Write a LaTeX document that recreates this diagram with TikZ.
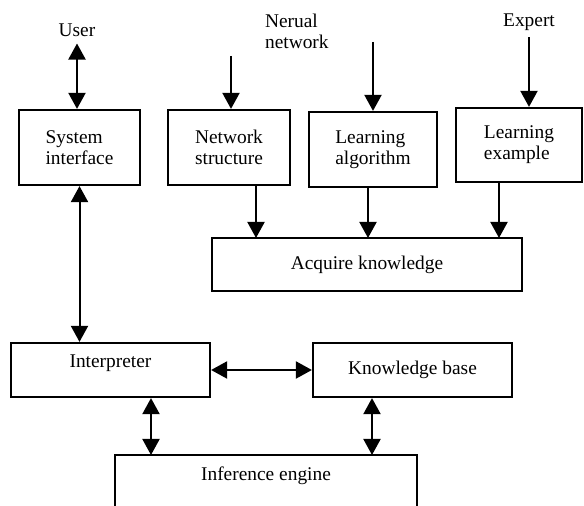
\documentclass[tikz,border=0pt]{standalone}
\usepackage{fontspec}
\setmainfont{Liberation Serif}
\usetikzlibrary{arrows.meta, positioning}

\begin{document}
\begin{tikzpicture}[x=0.5pt, y=-0.5pt]
      \tikzstyle{box}=[rectangle, draw, line width=1.1pt, inner sep=2pt, align=left, font=\fontsize{9.7}{10.5}\selectfont]
      \tikzstyle{lbl}=[align=left, font=\fontsize{9.7}{10.5}\selectfont]
      \tikzstyle{arr}=[line width=1pt, -{Triangle[length=8pt, width=8.5pt]}]
      \tikzstyle{dblarr}=[line width=1pt, {Triangle[length=8pt, width=8.5pt]}-{Triangle[length=8pt, width=8.5pt]}]
      \useasboundingbox (0,0) rectangle (584,506);
      \clip (0,0) rectangle (584,506);
      % top row
      \node[lbl] (user) at (77,30) {User};
      \node[lbl, anchor=west] (nn) at (258,31) {Nerual\\network};
      \node[lbl] (expert) at (529,22) {Expert};
      \node[box, minimum width=60.5pt, minimum height=37.5pt] (sysif) at (79.5,147.5) {System\\interface};
      \node[box, minimum width=61pt, minimum height=37.5pt] (ns) at (229,147.5) {Network\\structure};
      \node[box, minimum width=64pt, minimum height=37.5pt] (la) at (373,149.5) {Learning\\algorithm};
      \node[box, minimum width=63pt, minimum height=37pt] (le) at (519,145) {Learning\\example};
      \node[box, minimum width=155pt, minimum height=26.5pt] (acq) at (367,264.5) {Acquire knowledge};
      % lower part
      \node[box, minimum width=99.5pt, minimum height=27pt] (interp) at (110.5,370) {};
      \node[lbl] (interptxt) at ([yshift=3.5pt]interp.center) {Interpreter};
      \node[box, minimum width=99.5pt, minimum height=27pt] (kb) at (412.5,370) {Knowledge base};
      \node[box, minimum width=151pt, minimum height=40pt] (ie) at (266,495) {};
      \node[lbl] (ietxt) at ([yshift=-11pt]ie.north) {Inference engine};
      % connectors
      \coordinate (nsin) at (231,56);
      \coordinate (lain) at (373,42);
      \coordinate (ak1) at (256,238);
      \coordinate (ak2) at (368,238);
      \coordinate (ak3) at (499,238);
      \coordinate (ieL) at (151,455);
      \coordinate (ieR) at (372,455);
      \draw[dblarr] (user.south) -- (user.south |- sysif.north);
      \draw[arr] (nsin) -- (nsin |- ns.north);
      \draw[arr] (lain) -- (lain |- la.north);
      \draw[arr] (expert.south) -- (expert.south |- le.north);
      \draw[arr] (ns.south -| ak1) -- (ak1);
      \draw[arr] (la.south -| ak2) -- (ak2);
      \draw[arr] (le.south -| ak3) -- (ak3);
      \draw[dblarr] (sysif.south) -- (sysif.south |- interp.north);
      \draw[dblarr] (interp.east) -- (kb.west);
      \draw[dblarr] (interp.south -| ieL) -- (ieL);
      \draw[dblarr] (kb.south -| ieR) -- (ieR);
\end{tikzpicture}
\end{document}
